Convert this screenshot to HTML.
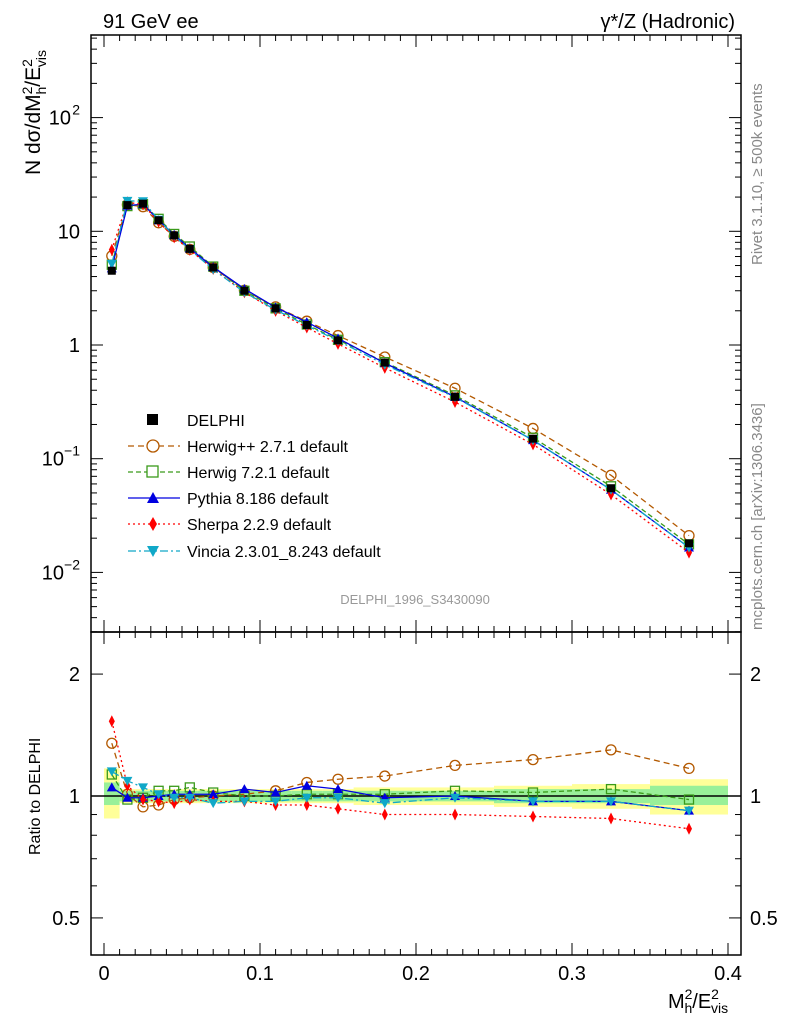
<!DOCTYPE html>
<html><head><meta charset="utf-8"><style>
body{margin:0;background:#fff}
svg{font-family:"Liberation Sans",sans-serif}
</style></head><body>
<svg id="c" width="786" height="1024" xmlns="http://www.w3.org/2000/svg"></svg>
<script>
const xs=[0.005,0.015,0.025,0.035,0.045,0.055,0.07,0.09,0.11,0.13,0.15,0.18,0.225,0.275,0.325,0.375];
const data=[4.5,17,17.5,12.5,9.2,7,4.8,3.0,2.1,1.5,1.1,0.7,0.35,0.15,0.055,0.018];
const binEdges=[0,0.01,0.02,0.03,0.04,0.05,0.06,0.08,0.1,0.12,0.14,0.16,0.2,0.25,0.3,0.35,0.4];
const yellowHi=[1.17,1.04,1.04,1.04,1.04,1.04,1.04,1.04,1.04,1.04,1.04,1.05,1.05,1.06,1.07,1.1];
const yellowLo=[0.88,0.96,0.96,0.96,0.96,0.96,0.96,0.96,0.96,0.96,0.96,0.95,0.95,0.94,0.93,0.9];
const greenHi=[1.08,1.03,1.03,1.03,1.03,1.03,1.03,1.03,1.03,1.03,1.03,1.03,1.03,1.04,1.04,1.06];
const greenLo=[0.95,0.97,0.97,0.97,0.97,0.97,0.97,0.97,0.97,0.97,0.97,0.97,0.97,0.96,0.96,0.95];
const rHerwigpp=[1.35,1.01,0.94,0.95,0.98,0.99,1.0,1.01,1.03,1.08,1.10,1.12,1.19,1.23,1.30,1.17];
const rHerwig7=[1.13,0.98,0.99,1.03,1.03,1.05,1.02,1.0,1.0,1.01,1.01,1.01,1.03,1.02,1.04,0.98];
const rPythia=[1.05,0.99,0.99,1.0,1.01,1.01,1.01,1.04,1.02,1.06,1.04,0.99,1.0,0.97,0.97,0.92];
const rSherpa=[1.53,1.06,0.98,0.97,0.96,0.98,0.97,0.97,0.95,0.95,0.93,0.90,0.90,0.89,0.88,0.83];
const rVincia=[1.15,1.09,1.05,1.01,0.99,0.99,0.96,0.97,0.97,0.99,0.99,0.96,0.99,0.97,0.97,0.92];
const series=[
 {name:"Herwig++ 2.7.1 default",key:"herwigpp",r:rHerwigpp,color:"#b35900",dash:"6,4",marker:"circle"},
 {name:"Herwig 7.2.1 default",key:"herwig7",r:rHerwig7,color:"#3a9a1a",dash:"5,3",marker:"square"},
 {name:"Pythia 8.186 default",key:"pythia",r:rPythia,color:"#0000e0",dash:"",marker:"tri"},
 {name:"Sherpa 2.2.9 default",key:"sherpa",r:rSherpa,color:"#ff0000",dash:"2,3",marker:"diamond"},
 {name:"Vincia 2.3.01_8.243 default",key:"vincia",r:rVincia,color:"#10a8c8",dash:"8,3,2,3",marker:"itri"}];
const NS="http://www.w3.org/2000/svg",svg=document.getElementById('c');
function el(t,a,p){const e=document.createElementNS(NS,t);for(const k in a)e.setAttribute(k,a[k]);(p||svg).appendChild(e);return e;}
const L=91,R=741,T=35,M=632,B=955;
const X=v=>104+v*1560;
const Y=v=>345-Math.log10(v)*113.7;
const YR=v=>796-Math.log10(v)*405;
// bands
for(let i=0;i<yellowHi.length;i++){
 const x1=X(binEdges[i]),x2=X(binEdges[i+1]);
 let r=el('rect',{x:x1,y:YR(yellowHi[i]),width:x2-x1,height:YR(yellowLo[i])-YR(yellowHi[i]),fill:"#ffff99"});
 
 r=el('rect',{x:x1,y:YR(greenHi[i]),width:x2-x1,height:YR(greenLo[i])-YR(greenHi[i]),fill:"#99f099"});
 
}
el('line',{x1:L,x2:R,y1:YR(1),y2:YR(1),stroke:"#000","stroke-width":1.5});
function marker(g,type,x,y,c,s){
 s=s||6;
 if(type==="circle")return el('circle',{cx:x,cy:y,r:s,fill:"none",stroke:c,"stroke-width":1.3},g);
 if(type==="square")return el('rect',{x:x-s+0.5,y:y-s+0.5,width:2*s-1,height:2*s-1,fill:"none",stroke:c,"stroke-width":1.3},g);
 if(type==="fsquare")return el('rect',{x:x-s+1,y:y-s+1,width:2*s-2,height:2*s-2,fill:c},g);
 if(type==="tri")return el('polygon',{points:`${x},${y-s} ${x-s},${y+s*0.8} ${x+s},${y+s*0.8}`,fill:c},g);
 if(type==="itri")return el('polygon',{points:`${x},${y+s} ${x-s},${y-s*0.8} ${x+s},${y-s*0.8}`,fill:c},g);
 if(type==="diamond")return el('polygon',{points:`${x},${y-s*1.2} ${x-s*0.6},${y} ${x},${y+s*1.2} ${x+s*0.6},${y}`,fill:c},g);
}
// main clip
const defs=el('defs',{});
const cp=el('clipPath',{id:"cm"},defs);el('rect',{x:L,y:T,width:R-L,height:M-T},cp);
const cr=el('clipPath',{id:"cr"},defs);el('rect',{x:L,y:M,width:R-L,height:B-M},cr);
series.forEach(s=>{
 const g=el('g',{"clip-path":"url(#cm)"});
 
 el('polyline',{points:xs.map((x,i)=>X(x)+","+Y(data[i]*s.r[i])).join(" "),fill:"none",stroke:s.color,"stroke-width":1.3,"stroke-dasharray":s.dash},g);
 xs.forEach((x,i)=>marker(g,s.marker,X(x),Y(data[i]*s.r[i]),s.color,5));
 const g2=el('g',{"clip-path":"url(#cr)"});
 
 el('polyline',{points:xs.map((x,i)=>X(x)+","+YR(s.r[i])).join(" "),fill:"none",stroke:s.color,"stroke-width":1.3,"stroke-dasharray":s.dash},g2);
 xs.forEach((x,i)=>marker(g2,s.marker,X(x),YR(s.r[i]),s.color,5));
});
const gd=el('g',{});
xs.forEach((x,i)=>marker(gd,"fsquare",X(x),Y(data[i]),"#000",5));
// frames
el('rect',{x:L,y:T,width:R-L,height:M-T,fill:"none",stroke:"#000","stroke-width":1.5});
el('rect',{x:L,y:M,width:R-L,height:B-M,fill:"none",stroke:"#000","stroke-width":1.5});
// x ticks
for(let v=0;v<=0.4001;v+=0.01){
 const x=X(v),maj=Math.abs(v*10-Math.round(v*10))<1e-6,len=maj?12:6;
 if(x<L||x>R)continue;
 [T,M].forEach(y=>el('line',{x1:x,x2:x,y1:y,y2:y+len,stroke:"#000"}));
 [M,B].forEach(y=>el('line',{x1:x,x2:x,y1:y,y2:y-len,stroke:"#000"}));
 if(maj){const t=el('text',{x:x,y:980,"font-size":20,"text-anchor":"middle"});t.textContent=(Math.round(v*10)/10).toString();
 }
}
// main y ticks
for(let d=-3;d<=2;d++)for(let m=1;m<10;m++){
 const v=m*Math.pow(10,d),y=Y(v);if(y<T||y>M)continue;const len=m===1?12:6;
 el('line',{x1:L,x2:L+len,y1:y,y2:y,stroke:"#000"});el('line',{x1:R,x2:R-len,y1:y,y2:y,stroke:"#000"});
}
const ylab=[["10",2,118],["10",1,0],["1",0,0],["10",-1,0],["10",-2,0]];
[[2,"10","2"],[1,"10",""],[0,"1",""],[-1,"10","−1"],[-2,"10","−2"]].forEach(([d,b,e])=>{
 const t=el('text',{x:e?78-e.length*7:80,y:Y(Math.pow(10,d))+7,"font-size":20,"text-anchor":"end"});t.textContent=b;
 
 if(e){const s=el('text',{x:80,y:Y(Math.pow(10,d))-3,"font-size":14,"text-anchor":"end"});s.textContent=e;}
});
// ratio y ticks
for(const v of [0.5,0.6,0.7,0.8,0.9,1,2]){
 const y=YR(v);const len=(v===0.5||v===1||v===2)?12:6;
 el('line',{x1:L,x2:L+len,y1:y,y2:y,stroke:"#000"});el('line',{x1:R,x2:R-len,y1:y,y2:y,stroke:"#000"});
 if(len===12){
  let t=el('text',{x:80,y:y+7,"font-size":20,"text-anchor":"end"});t.textContent=v;
  
  t=el('text',{x:750,y:y+7,"font-size":20});t.textContent=v;
 }
}
</script>
<svg width="786" height="1024" style="position:absolute;left:0;top:0" xmlns="http://www.w3.org/2000/svg">
<text x="103" y="28" font-size="20" font-family="Liberation Sans">91 GeV ee</text>
<text x="735" y="28" font-size="20" font-family="Liberation Sans" text-anchor="end">γ*/Z (Hadronic)</text>
<text transform="translate(40,175) rotate(-90)" font-size="21" font-family="Liberation Sans">N dσ/dM<tspan font-size="14" dy="-8">2</tspan><tspan font-size="14" dy="14" dx="-8">h</tspan><tspan dy="-6">/E</tspan><tspan font-size="14" dy="-8">2</tspan><tspan font-size="14" dy="14" dx="-8">vis</tspan></text>
<text transform="translate(40,855) rotate(-90)" font-size="16" font-family="Liberation Sans">Ratio to DELPHI</text>
<text transform="translate(762,265) rotate(-90)" font-size="15" fill="#888" font-family="Liberation Sans">Rivet 3.1.10, ≥ 500k events</text>
<text transform="translate(762,630) rotate(-90)" font-size="15" fill="#888" font-family="Liberation Sans">mcplots.cern.ch [arXiv:1306.3436]</text>
<text x="415" y="604" font-size="13" fill="#999" text-anchor="middle" font-family="Liberation Sans">DELPHI_1996_S3430090</text>
<text x="668" y="1008" font-size="20" font-family="Liberation Sans">M<tspan font-size="14" dy="-9">2</tspan><tspan font-size="14" dy="14" dx="-8">h</tspan><tspan dy="-5">/E</tspan><tspan font-size="14" dy="-9">2</tspan><tspan font-size="14" dy="14" dx="-8">vis</tspan></text>
<g font-family="Liberation Sans" font-size="16">
<rect x="147" y="414" width="11" height="11" fill="#000"/><text x="187" y="426">DELPHI</text>
<line x1="128" x2="180" y1="446" y2="446" stroke="#b35900" stroke-dasharray="6,4" stroke-width="1.3"/><circle cx="153" cy="446" r="6" fill="#fff" stroke="#b35900" stroke-width="1.3"/><text x="187" y="452">Herwig++ 2.7.1 default</text>
<line x1="128" x2="180" y1="472" y2="472" stroke="#3a9a1a" stroke-dasharray="5,3" stroke-width="1.3"/><rect x="147" y="466" width="11" height="11" fill="#fff" stroke="#3a9a1a" stroke-width="1.3"/><text x="187" y="478">Herwig 7.2.1 default</text>
<line x1="128" x2="180" y1="498" y2="498" stroke="#0000e0" stroke-width="1.3"/><polygon points="153,492 147,503 159,503" fill="#0000e0"/><text x="187" y="504">Pythia 8.186 default</text>
<line x1="128" x2="180" y1="524" y2="524" stroke="#ff0000" stroke-dasharray="2,3" stroke-width="1.3"/><polygon points="153,517 149,524 153,531 157,524" fill="#ff0000"/><text x="187" y="530">Sherpa 2.2.9 default</text>
<line x1="128" x2="180" y1="551" y2="551" stroke="#10a8c8" stroke-dasharray="8,3,2,3" stroke-width="1.3"/><polygon points="153,557 147,546 159,546" fill="#10a8c8"/><text x="187" y="557">Vincia 2.3.01_8.243 default</text>
</g>
</svg>
</body></html>
